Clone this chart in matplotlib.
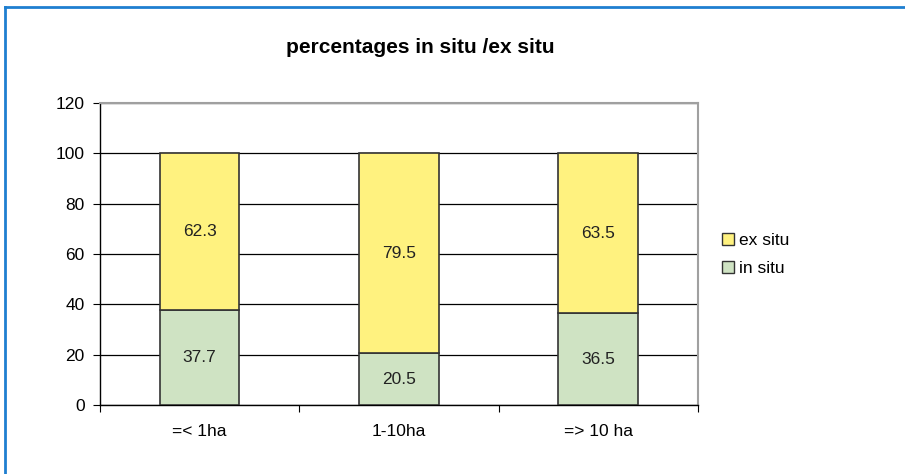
import matplotlib.pyplot as plt
from matplotlib.lines import Line2D

categories = ["=< 1ha", "1-10ha", "=> 10 ha"]
in_situ = [37.7, 20.5, 36.5]
ex_situ = [62.3, 79.5, 63.5]
yticks = [0, 20, 40, 60, 80, 100, 120]

plt.rcParams['font.family'] = ['Liberation Sans', 'DejaVu Sans']

fig = plt.figure(figsize=(9.05, 4.74), dpi=100)
ax = fig.add_axes([0.1105, 0.1456, 0.6605, 0.6371])

x = range(len(categories))
green = "#cfe3c3"
yellow = "#fff27f"
ax.bar(x, in_situ, width=0.4, color=green, edgecolor="#333333", linewidth=1.2, zorder=3)
ax.bar(x, ex_situ, width=0.4, bottom=in_situ, color=yellow, edgecolor="#333333", linewidth=1.2, zorder=3)

for i in x:
    ax.text(i, in_situ[i] / 2, f"{in_situ[i]:.1f}", ha="center", va="center", fontsize=12.5, color="#222222", zorder=4)
    ax.text(i, in_situ[i] + ex_situ[i] / 2, f"{ex_situ[i]:.1f}", ha="center", va="center", fontsize=12.5, color="#222222", zorder=4)

ax.set_xlim(-0.5, 2.5)
ax.set_ylim(0, 120)
ax.set_yticks(yticks)
ax.tick_params(axis="y", labelsize=12.5, length=5, direction="out", pad=6)
ax.yaxis.grid(True, color="black", linewidth=0.9)
ax.set_axisbelow(True)

ax.set_xticks([-0.5, 0.5, 1.5, 2.5], minor=False)
ax.set_xticklabels([])
ax.tick_params(axis="x", length=5, direction="out")
ax.set_xticks(list(x), minor=True)
ax.set_xticklabels(categories, minor=True)
ax.tick_params(axis="x", which="minor", length=0, labelsize=12.5, pad=14)

for side in ["top", "right"]:
    ax.spines[side].set_color("#a0a0a0")
    ax.spines[side].set_linewidth(1.5)
for side in ["left", "bottom"]:
    ax.spines[side].set_color("black")
    ax.spines[side].set_linewidth(1)

fig.text(0.464, 0.90, "percentages in situ /ex situ", ha="center", va="center", fontsize=15, fontweight="bold")

handles = [
    Line2D([], [], marker="s", linestyle="none", markersize=8, markerfacecolor=yellow, markeredgecolor="#333333"),
    Line2D([], [], marker="s", linestyle="none", markersize=8, markerfacecolor=green, markeredgecolor="#333333"),
]
fig.legend(handles, ["ex situ", "in situ"], loc="center left", bbox_to_anchor=(0.778, 0.463),
           frameon=False, fontsize=12.5, handletextpad=0.1, labelspacing=0.75, handlelength=1.0)

# blue frame around figure (top and left visible)
fig.add_artist(Line2D([0.006, 1.0], [0.985, 0.985], transform=fig.transFigure, color="#1f7fd0", linewidth=2))
fig.add_artist(Line2D([0.006, 0.006], [0.0, 0.985], transform=fig.transFigure, color="#1f7fd0", linewidth=2))

fig.savefig("out.png", dpi=100)
